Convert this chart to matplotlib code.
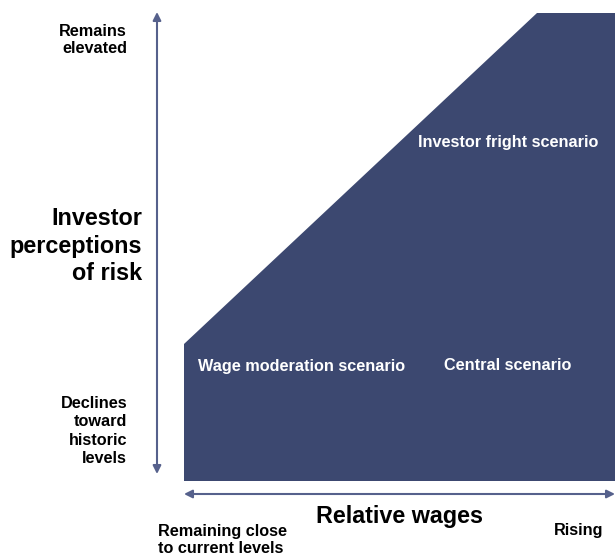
import matplotlib.pyplot as plt
from matplotlib.patches import Polygon

plt.rcParams['font.family'] = ['Liberation Sans', 'DejaVu Sans']

# scenario region outline (canvas pixel units, y downward)
region_x = [184, 184, 537, 615, 615]
region_y = [481, 344, 13, 13, 481]

fill_color = '#3c4870'
arrow_color = '#56618c'

scenario_labels = ['Wage moderation scenario', 'Central scenario', 'Investor fright scenario']
scenario_x = [302, 508, 508]
scenario_y = [366, 366, 142]

SMALL = 11.7
BIG = 16.8

fig = plt.figure(figsize=(6.15, 5.56), dpi=100)
ax = fig.add_axes([0, 0, 1, 1])
ax.set_xlim(0, 615)
ax.set_ylim(556, 0)
ax.axis('off')

ax.add_patch(Polygon(list(zip(region_x, region_y)), closed=True,
                     facecolor=fill_color, edgecolor='none'))

for label, x, y in zip(scenario_labels, scenario_x, scenario_y):
    ax.text(x, y, label, color='white', fontsize=SMALL, fontweight='bold',
            ha='center', va='center')

# axis arrows
ax.annotate('', xy=(157, 12), xytext=(157, 474),
            arrowprops=dict(arrowstyle='<|-|>', color=arrow_color, lw=1.5,
                            mutation_scale=12, shrinkA=0, shrinkB=0))
ax.annotate('', xy=(615, 494), xytext=(184, 494),
            arrowprops=dict(arrowstyle='<|-|>', color=arrow_color, lw=1.5,
                            mutation_scale=12, shrinkA=0, shrinkB=0))

ax.text(127, 40, 'Remains\nelevated', fontsize=SMALL, fontweight='bold',
        ha='right', va='center', linespacing=1.24)
ax.text(142, 246, 'Investor\nperceptions\nof risk', fontsize=BIG, fontweight='bold',
        ha='right', va='center', linespacing=1.25)
ax.text(127, 431, 'Declines\ntoward\nhistoric\nlevels', fontsize=SMALL, fontweight='bold',
        ha='right', va='center', linespacing=1.27)

ax.text(400, 516, 'Relative wages', fontsize=BIG, fontweight='bold',
        ha='center', va='center')
ax.text(158, 540, 'Remaining close\nto current levels', fontsize=SMALL, fontweight='bold',
        ha='left', va='center', linespacing=1.18)
ax.text(603, 531, 'Rising', fontsize=SMALL, fontweight='bold',
        ha='right', va='center')

fig.savefig('out.png', dpi=100)
